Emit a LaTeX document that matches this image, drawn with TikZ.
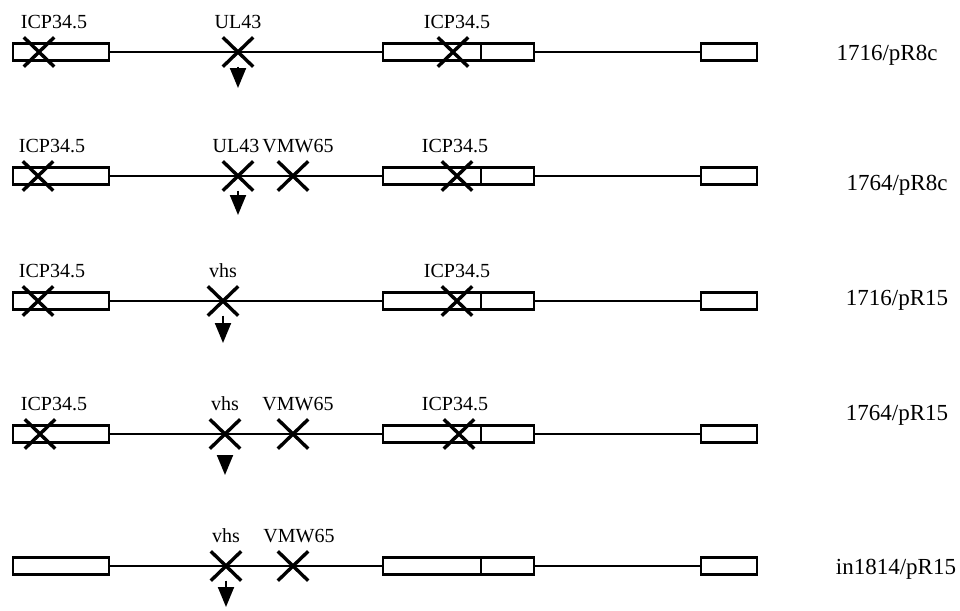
\documentclass[tikz,border=0pt]{standalone}
\usepackage{fontspec}
\setmainfont{Liberation Serif}
\usetikzlibrary{shapes.misc,arrows.meta}
\begin{document}
\begin{tikzpicture}[x=0.5pt,y=-0.5pt,
  gbox/.style={draw,line width=1.2pt,rectangle,inner sep=0pt,minimum height=8.5pt},
  leftbox/.style={gbox,minimum width=48pt},
  midboxa/.style={gbox,minimum width=49pt},
  midboxb/.style={gbox,minimum width=26.5pt},
  rightbox/.style={gbox,minimum width=28pt},
  gline/.style={line width=1pt},
  mutx/.style={draw,cross out,line width=1.7pt,inner sep=0pt,minimum width=13.5pt,minimum height=13pt},
  genelabel/.style={font=\fontsize{10pt}{12pt}\selectfont,anchor=base,inner sep=0pt},
  strainlabel/.style={font=\fontsize{11.5pt}{13pt}\selectfont,anchor=base,inner sep=0pt},
  insarrow/.style={line width=1pt,-{Triangle[width=8pt,length=10pt]}}
]
\useasboundingbox (0,0) rectangle (960,611);

% genome backbone of each construct: repeat boxes and joining lines
\foreach \r/\y in {1/52,2/176,3/301,4/434,5/566}{
  \node[leftbox] (L\r) at (61,\y) {};
  \node[midboxa] (Ma\r) at (432,\y) {};
  \node[midboxb] (Mb\r) at (507.5,\y) {};
  \node[rightbox] (R\r) at (729,\y) {};
  \draw[gline] (L\r.east) -- (Ma\r.west);
  \draw[gline] (Mb\r.east) -- (R\r.west);
}

% 1716/pR8c
\node[mutx] (x1a) at (39,52) {};
\node[mutx] (x1b) at (238,52) {};
\node[mutx] (x1c) at (453,52) {};
\coordinate (t1) at (238,88);
\draw[insarrow] (x1b.south) -- (t1);
\node[genelabel] (g1a) at (54,28) {ICP34.5};
\node[genelabel] (g1b) at (238,28) {UL43};
\node[genelabel] (g1c) at (457,28) {ICP34.5};
\node[strainlabel] (s1) at (887,60) {1716/pR8c};

% 1764/pR8c
\node[mutx] (x2a) at (38,176) {};
\node[mutx] (x2b) at (238,176) {};
\node[mutx] (x2c) at (293,176) {};
\node[mutx] (x2d) at (457,176) {};
\coordinate (t2) at (238,215);
\draw[insarrow] (x2b.south) -- (t2);
\node[genelabel] (g2a) at (52,152) {ICP34.5};
\node[genelabel] (g2b) at (236,152) {UL43};
\node[genelabel] (g2c) at (298,152) {VMW65};
\node[genelabel] (g2d) at (455,152) {ICP34.5};
\node[strainlabel] (s2) at (897,190) {1764/pR8c};

% 1716/pR15
\node[mutx] (x3a) at (38,301) {};
\node[mutx] (x3b) at (223,301) {};
\node[mutx] (x3c) at (457,301) {};
\coordinate (t3) at (223,343);
\draw[insarrow] (x3b.south) -- (t3);
\node[genelabel] (g3a) at (52,277) {ICP34.5};
\node[genelabel] (g3b) at (223,277) {vhs};
\node[genelabel] (g3c) at (457,277) {ICP34.5};
\node[strainlabel] (s3) at (897,305) {1716/pR15};

% 1764/pR15
\node[mutx] (x4a) at (40,434) {};
\node[mutx] (x4b) at (225,434) {};
\node[mutx] (x4c) at (293,434) {};
\node[mutx] (x4d) at (459,434) {};
\coordinate (t4) at (225,475);
\draw[insarrow,shorten <=4pt] (x4b.south) -- (t4);
\node[genelabel] (g4a) at (54,410) {ICP34.5};
\node[genelabel] (g4b) at (225,410) {vhs};
\node[genelabel] (g4c) at (298,410) {VMW65};
\node[genelabel] (g4d) at (455,410) {ICP34.5};
\node[strainlabel] (s4) at (897,420) {1764/pR15};

% in1814/pR15
\node[mutx] (x5a) at (226,566) {};
\node[mutx] (x5b) at (293,566) {};
\coordinate (t5) at (226,607);
\draw[insarrow] (x5a.south) -- (t5);
\node[genelabel] (g5a) at (226,542) {vhs};
\node[genelabel] (g5b) at (299,542) {VMW65};
\node[strainlabel] (s5) at (896,574) {in1814/pR15};
\end{tikzpicture}
\end{document}
